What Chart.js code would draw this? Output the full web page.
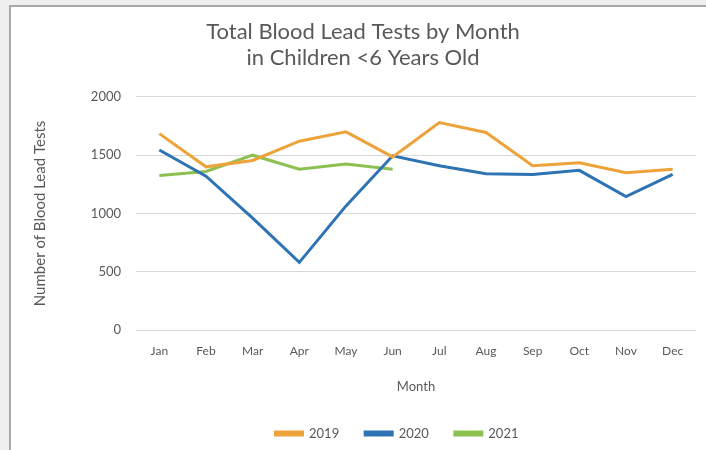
<!DOCTYPE html>
<html>
<head>
<meta charset="utf-8">
<script src="https://cdn.jsdelivr.net/npm/chart.js@4"></script>
<style>
    html, body { margin: 0; padding: 0; background: #efefef; overflow: hidden; width: 706px; height: 450px; }
    #cadre {
        position: absolute; left: 9px; top: 5px;
        width: 706px; height: 450px;
        background: #fff; border: 2px solid #a8a8a8;
    }
    #cadre canvas { display: block; }
</style>
</head>
<body>
<div id="cadre"><canvas id="plombChart" width="704" height="443"></canvas></div>
<script>
// Données
const mois = ['Jan', 'Feb', 'Mar', 'Apr', 'May', 'Jun', 'Jul', 'Aug', 'Sep', 'Oct', 'Nov', 'Dec'];
const tests2019 = [1685, 1400, 1455, 1620, 1700, 1485, 1780, 1695, 1410, 1435, 1350, 1380];
const tests2020 = [1545, 1320, 960, 580, 1065, 1495, 1410, 1340, 1335, 1370, 1145, 1335];
const tests2021 = [1325, 1360, 1500, 1380, 1425, 1380];
const yTicks = [0, 500, 1000, 1500, 2000];

const police = 'Lato, "Open Sans", sans-serif';
const gris = '#595959';

// La légende d'origine est décalée vers la droite
const decalageLegende = {
    id: 'decalageLegende',
    afterLayout(chart) {
        chart.legend.left += 34;
        chart.legend.right += 34;
    }
};

const ctx = document.getElementById('plombChart');

new Chart(ctx, {
    type: 'line',
    data: {
        labels: mois,
        datasets: [
            { label: '2019', data: tests2019, borderColor: '#eda33a', backgroundColor: '#eda33a' },
            { label: '2020', data: tests2020, borderColor: '#2e73b4', backgroundColor: '#2e73b4' },
            { label: '2021', data: tests2021, borderColor: '#8cc152', backgroundColor: '#8cc152' }
        ].map(d => ({ ...d, borderWidth: 3, pointRadius: 0, tension: 0, fill: false }))
    },
    plugins: [decalageLegende],
    options: {
        responsive: false,
        animation: false,
        layout: { padding: { left: 19, right: 19, top: 0, bottom: 0 } },
        plugins: {
            title: {
                display: true,
                text: ['Total Blood Lead Tests by Month', 'in Children <6 Years Old'],
                color: gris,
                font: { family: police, size: 22, weight: 'normal', lineHeight: 1.18 },
                padding: { top: 12, bottom: 26 }
            },
            legend: {
                position: 'bottom',
                labels: {
                    color: gris,
                    font: { family: police, size: 13 },
                    boxWidth: 27,
                    boxHeight: 3,
                    padding: 26
                }
            },
            tooltip: { enabled: false }
        },
        scales: {
            x: {
                offset: true,
                grid: { display: false },
                border: { display: false },
                ticks: { color: gris, font: { family: police, size: 12 }, padding: 6 },
                title: {
                    display: true, text: 'Month', color: gris,
                    font: { family: police, size: 13 }, padding: { top: 15, bottom: 6 }
                }
            },
            y: {
                min: 0,
                max: 2000,
                afterBuildTicks: axis => { axis.ticks = yTicks.map(v => ({ value: v })); },
                afterFit: axis => { axis.width = 106; },
                grid: { color: '#d9d9d9', lineWidth: 1, drawTicks: false },
                border: { display: false },
                ticks: {
                    color: gris, font: { family: police, size: 13 }, padding: 15,
                    callback: v => String(v)
                },
                title: {
                    display: true, text: 'Number of Blood Lead Tests', color: gris,
                    font: { family: police, size: 15 }, padding: { top: 1, bottom: 0 }
                }
            }
        }
    }
});
</script>
</body>
</html>
